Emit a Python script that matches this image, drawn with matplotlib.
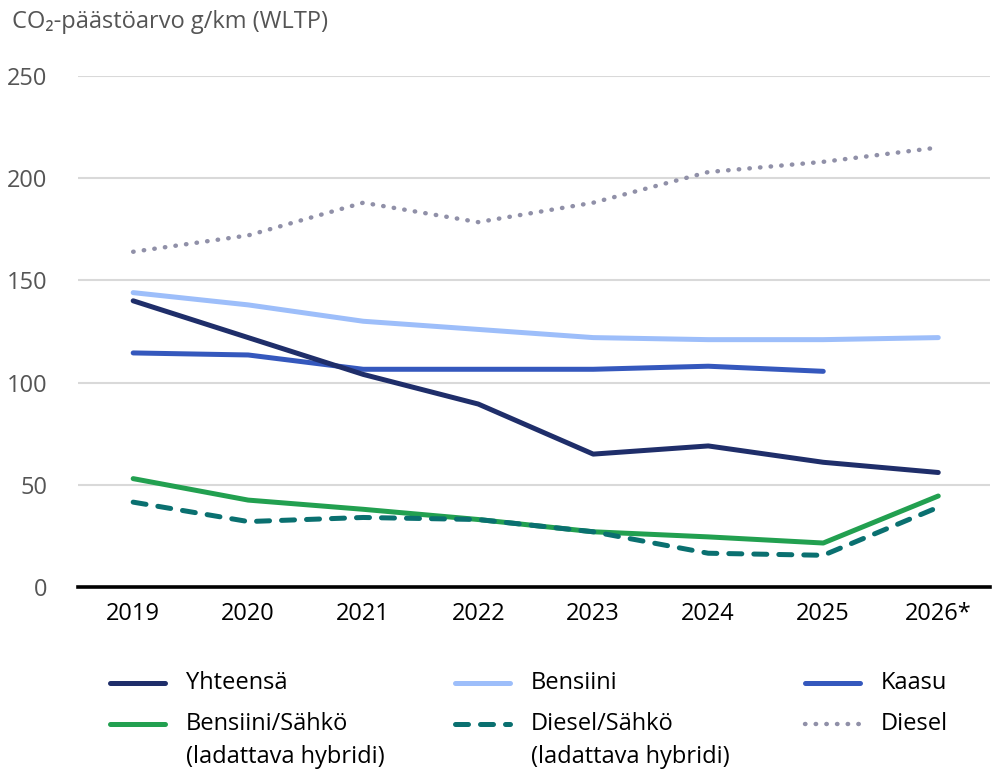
import matplotlib.pyplot as plt
from matplotlib.lines import Line2D

plt.rcParams['font.family'] = ['Open Sans', 'DejaVu Sans']

years = ['2019', '2020', '2021', '2022', '2023', '2024', '2025', '2026*']

yhteensa = [140, 122, 104, 89.5, 65, 69, 61, 56]
bensiini = [144, 138, 130, 126, 122, 121, 121, 122]
kaasu = [114.5, 113.5, 106.5, 106.5, 106.5, 108, 105.5]
bensiini_sahko = [53, 42.5, 38, 33, 27, 24.5, 21.5, 44.5]
diesel_sahko = [41.5, 32, 34, 33, 27, 16.5, 15.5, 39]
diesel = [164, 172, 188, 178.5, 188, 203, 208, 215]

series = [
    ('Yhteensä', yhteensa, '#1f2e6a', '-'),
    ('Bensiini', bensiini, '#9dbefa', '-'),
    ('Kaasu', kaasu, '#3558bd', '-'),
    ('Bensiini/Sähkö\n(ladattava hybridi)', bensiini_sahko, '#22a050', '-'),
    ('Diesel/Sähkö\n(ladattava hybridi)', diesel_sahko, '#0a7070', '--'),
    ('Diesel', diesel, '#9090a8', ':'),
]


def style(ls):
    if ls == ':':
        return dict(linestyle=(0, (0.1, 2.3)), dash_capstyle='round', lw=3.2)
    if ls == '--':
        return dict(linestyle=(0, (2.6, 2.4)), dash_capstyle='round', lw=3.6)
    return dict(solid_capstyle='round', lw=3.6)


fig = plt.figure(figsize=(9.92, 7.76), dpi=100)
ax = fig.add_axes([0.0786, 0.2436, 0.9194, 0.6585])

# diesel dotted drawn first, hybrids on top
for name, vals, col, ls in [series[5], series[1], series[2], series[0], series[3], series[4]]:
    x = list(range(len(vals)))
    ax.plot(x, vals, color=col, solid_joinstyle='round', dash_joinstyle='round', **style(ls))

ax.set_xlim(-0.48, 7.45)
ax.set_ylim(0, 250)
ax.set_yticks([0, 50, 100, 150, 200, 250])
ax.set_xticks(range(len(years)))
ax.set_xticklabels(years)
ax.grid(axis='y', color='#d9d9d9', lw=1.5)
ax.set_axisbelow(True)
for s in ['top', 'right', 'left']:
    ax.spines[s].set_visible(False)
ax.spines['bottom'].set_linewidth(2.6)
ax.spines['bottom'].set_color('black')
ax.spines['bottom'].set_zorder(5)
ax.tick_params(axis='y', length=0, pad=22, labelsize=17, labelcolor='#555555')
ax.tick_params(axis='x', length=0, pad=11, labelsize=17, labelcolor='black')

fig.text(12 / 992, 1 - 22 / 776, 'CO₂-päästöarvo g/km (WLTP)', fontsize=17,
         color='#555555', va='center', ha='left')

# legend laid out by hand
cols_x = [110, 455, 805]
rows_y = [683, 724]
for i, (name, vals, col, ls) in enumerate(series):
    cx = cols_x[i % 3]
    cy = rows_y[i // 3]
    yy = 1 - cy / 776
    fig.add_artist(Line2D([cx / 992, (cx + 55) / 992], [yy, yy], color=col,
                          transform=fig.transFigure, **style(ls)))
    for j, part in enumerate(name.split('\n')):
        fig.text((cx + 76) / 992, 1 - (cy + 33 * j) / 776, part, fontsize=17,
                 color='black', va='center', ha='left')

fig.savefig('out.png', dpi=100)
